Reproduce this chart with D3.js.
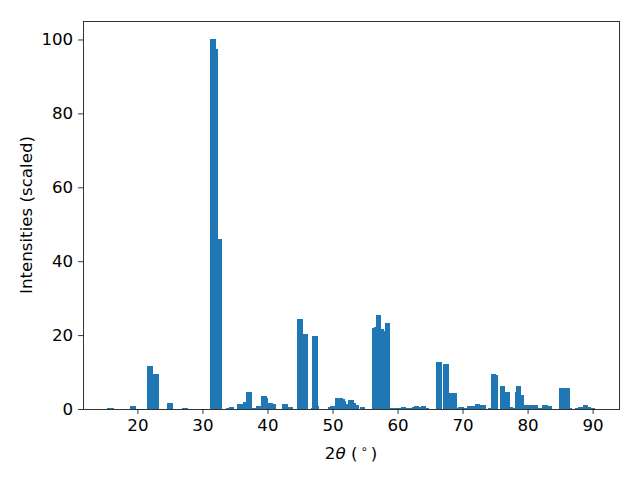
<!DOCTYPE html>
<html><head><meta charset="utf-8">
<script src="https://cdn.jsdelivr.net/npm/d3@7/dist/d3.min.js"></script>
<style>body{margin:0;background:#fff}svg{display:block}text{font-family:"DejaVu Sans",sans-serif}</style>
</head><body><svg id="c" width="640" height="480"></svg>
<script>
const twoTheta = [15.78,16.06,19.31,19.45,21.94,22.71,22.98,25.0,27.31,31.63,32.06,32.68,
34.09,34.52,35.77,36.25,36.71,37.15,37.92,38.69,39.46,39.75,40.52,40.98,42.69,43.46,
45.0,45.78,45.9,47.17,47.31,47.45,49.78,50.06,50.86,51.14,51.45,51.75,52.06,52.86,53.29,53.6,54.6,
56.55,56.71,57.02,57.45,57.6,58.4,59.17,59.6,60.06,60.92,61.77,62.55,62.86,63.14,63.94,64.37,
66.25,66.37,67.46,68.25,68.68,68.98,69.77,70.55,71.02,71.45,72.25,73.02,73.14,74.25,74.71,74.98,
76.09,76.86,77.29,77.6,78.4,78.55,78.98,79.78,80.55,81.14,81.92,82.69,83.29,85.17,85.6,86.06,86.37,
87.63,88.09,88.86,89.29,89.91];
const intensity = [0.27,0.27,0.8,0.2,11.6,9.5,9.5,1.62,0.27,100,97.3,45.9,
0.27,0.54,1.35,0.27,1.9,4.6,0.27,0.8,3.5,3.0,1.6,1.35,1.35,0.54,
24.3,20.3,20.3,0.27,19.7,0.8,0.54,0.8,3.0,3.0,2.7,2.2,1.35,2.4,1.6,1.1,0.54,
21.9,22.2,25.4,21.6,21.1,23.2,0.27,0.27,0.27,0.54,0.27,0.54,0.8,0.54,0.8,0.27,
12.7,12.7,12.2,4.3,4.3,0.27,0.54,0.27,0.8,0.8,1.35,1.1,1.1,0.27,9.46,9.2,
6.2,4.6,0.54,0.27,4.6,6.2,3.8,1.1,1.1,1.1,0.27,1.1,0.8,5.7,5.7,5.7,0.27,
0.27,0.54,1.1,0.54,0.27];
const xTicks = [20,30,40,50,60,70,80,90];
const yTicks = [0,20,40,60,80,100];
const barWidth = 0.8;

const data = twoTheta.map((x,i)=>({x, y:intensity[i]}));
const svg = d3.select("#c");
const L=83, R=619, T=21, B=409;
const FS = 16.67;
const lo = d3.min(twoTheta)-barWidth/2, hi = d3.max(twoTheta)+barWidth/2;
const pad = (hi-lo)*0.05;
const x = d3.scaleLinear().domain([lo-pad, hi+pad]).range([L,R]);
const y = d3.scaleLinear().domain([0, d3.max(intensity)*1.05]).range([B,T]);

svg.append("g").selectAll("rect").data(data).join("rect")
  .attr("x", d=>x(d.x-barWidth/2)).attr("width", d=>x(d.x+barWidth/2)-x(d.x-barWidth/2))
  .attr("y", d=>y(d.y)).attr("height", d=>y(0)-y(d.y))
  .attr("fill","#1f77b4").attr("shape-rendering","crispEdges");

const xa = svg.append("g").attr("transform",`translate(0,${B})`)
  .call(d3.axisBottom(x).tickValues(xTicks).tickSize(4.9).tickPadding(4.9).tickFormat(d3.format("d")));
const ya = svg.append("g").attr("transform",`translate(${L},0)`)
  .call(d3.axisLeft(y).tickValues(yTicks).tickSize(4.9).tickPadding(4.9).tickFormat(d3.format("d")));
[xa,ya].forEach(a=>{
  a.select(".domain").remove();
  a.selectAll("line").attr("stroke","#000").attr("stroke-width",0.8);
  a.selectAll("text").attr("font-size",FS).attr("fill","#000").attr("font-family","DejaVu Sans");
});
svg.append("rect").attr("x",L).attr("y",T).attr("width",R-L).attr("height",B-T)
  .attr("fill","none").attr("stroke","#000").attr("stroke-width",0.8).attr("shape-rendering","crispEdges");

const xl = svg.append("text").attr("x",(L+R)/2).attr("y",459).attr("text-anchor","middle")
  .attr("font-size",FS).attr("fill","#000");
xl.append("tspan").text("2");
xl.append("tspan").attr("font-style","italic").text("θ");
xl.append("tspan").text(" (");
xl.append("tspan").attr("font-size",11.7).attr("dy",-6).attr("dx",3).text("∘");
xl.append("tspan").attr("dy",6).attr("dx",3).text(")");

svg.append("text").attr("transform",`translate(32,${(T+B)/2}) rotate(-90)`)
  .attr("text-anchor","middle").attr("font-size",FS).attr("fill","#000").text("Intensities (scaled)");
</script></body></html>
